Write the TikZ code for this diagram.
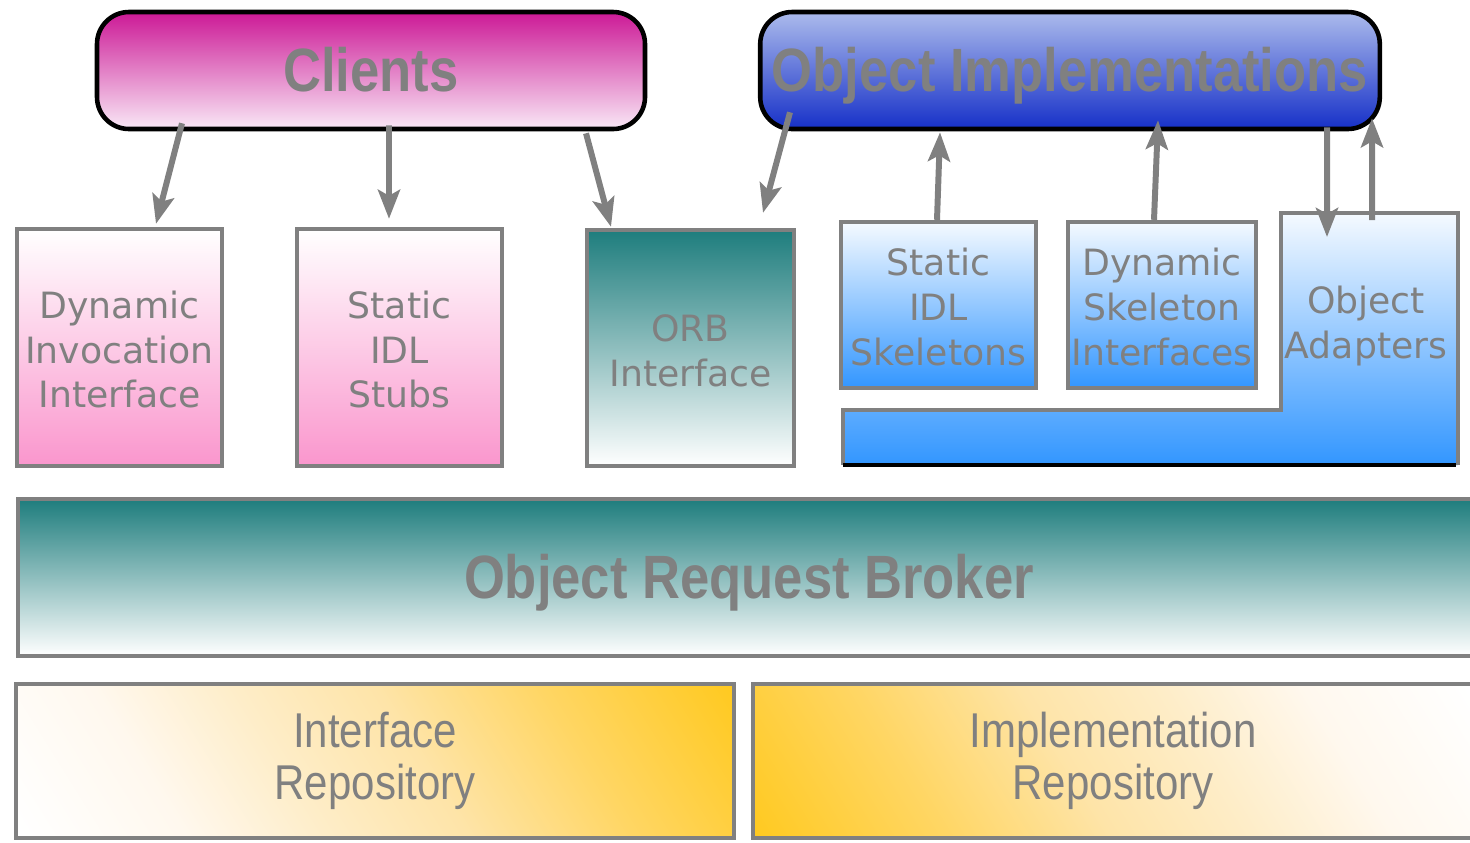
\documentclass[tikz,border=0pt]{standalone}
\usepackage{fontspec}
\setmainfont{DejaVu Sans}
\newfontfamily\narrowsans[FakeStretch=0.86]{Liberation Sans}
\usetikzlibrary{arrows.meta}
\definecolor{textgray}{RGB}{128,128,128}
\definecolor{clienttop}{RGB}{204,25,150}
\definecolor{clientmid}{RGB}{228,160,207}
\definecolor{clientbot}{RGB}{249,232,246}
\definecolor{impltop}{RGB}{172,187,236}
\definecolor{implmid}{RGB}{146,164,230}
\definecolor{implbot}{RGB}{22,48,200}
\definecolor{stubpink}{RGB}{250,150,205}
\definecolor{stubmid}{RGB}{252,218,236}
\definecolor{orbteal}{RGB}{30,125,125}
\definecolor{orbmid}{RGB}{165,190,190}
\definecolor{skelblue}{RGB}{50,150,255}
\definecolor{skelmid}{RGB}{170,202,255}
\definecolor{repogold}{RGB}{255,200,25}
\definecolor{repowarm}{RGB}{255,214,100}
\definecolor{repopale}{RGB}{254,228,168}
\definecolor{repopeach}{RGB}{254,237,200}
\definecolor{repolight}{RGB}{255,248,238}

% soft gold glow for the repositories
\pgfdeclarehorizontalshading{repoglow}{100bp}{color(0bp)=(white); color(16bp)=(white);
  color(30bp)=(repolight); color(42bp)=(repopeach); color(54bp)=(repopale);
  color(68bp)=(repowarm); color(86bp)=(repogold); color(100bp)=(repogold)}

\tikzset{
  header/.style={draw=black, line width=1.3pt, rounded corners=0.32cm,
    minimum height=1.17cm, text=textgray, text height=0.42cm, text depth=0pt,
    font=\narrowsans\bfseries\fontsize{17.4}{20}\selectfont},
  part/.style={draw=textgray, line width=1.25pt, text=textgray, align=center,
    inner sep=0pt, font=\fontsize{10.3}{12.8}\selectfont},
  pinkpart/.style={part, top color=white, middle color=stubmid, bottom color=stubpink,
    minimum width=2.05cm, minimum height=2.37cm},
  bluepart/.style={part, top color=white!95!skelblue, middle color=skelmid, bottom color=skelblue,
    minimum height=1.66cm},
  repo/.style={draw=textgray, line width=1.25pt, text=textgray, align=center, shading=repoglow,
    minimum height=1.54cm, font=\narrowsans\fontsize{13.9}{14.8}\selectfont},
  flow/.style={draw=textgray, line width=1.7pt,
    -{Stealth[length=0.29cm, width=0.22cm, inset=0.06cm]}}
}

\begin{document}
\begin{tikzpicture}
\useasboundingbox (0,0) rectangle (14.7,-8.42);

% top row
\node[header, minimum width=5.48cm, top color=clienttop, middle color=clientmid, bottom color=clientbot]
  (clients) at (3.71,-0.705) {Clients};
\node[header, minimum width=6.12cm, top color=impltop, middle color=implmid, bottom color=implbot]
  (objimpl) at (10.70,-0.705) {Object Implementations};

% client side
\node[pinkpart] (dii) at (1.195,-3.475) {\strut Dynamic\\Invocation\\Interface};
\node[pinkpart] (stubs) at (3.995,-3.475) {\strut Static\\IDL\\Stubs};
\node[part, top color=orbteal, middle color=orbmid, bottom color=white,
  minimum width=2.07cm, minimum height=2.36cm] (orbif) at (6.905,-3.48) {\strut ORB\\Interface};

% server side
\node[bluepart, minimum width=1.95cm] (skel) at (9.385,-3.05) {\strut Static\\IDL\\Skeletons};
\node[bluepart, minimum width=1.88cm] (dsi) at (11.62,-3.05) {\strut Dynamic\\Skeleton\\Interfaces};
\shade[top color=white!95!skelblue, middle color=skelmid, bottom color=skelblue]
  (12.81,-2.13) -- (14.58,-2.13) -- (14.58,-4.65) -- (8.43,-4.65) -- (8.43,-4.10) -- (12.81,-4.10) -- cycle;
\draw[textgray, line width=1.25pt]
  (8.43,-4.65) -- (8.43,-4.10) -- (12.81,-4.10) -- (12.81,-2.13) -- (14.58,-2.13) -- (14.58,-4.65);
\draw[black, line width=1.25pt] (8.43,-4.65) -- (14.56,-4.65);
\coordinate (oatop) at (13.695,-2.13);
\node[text=textgray, align=center, font=\fontsize{10.3}{12.8}\selectfont]
  (adapters) at (13.66,-3.26) {Object\\Adapters};

% core and repositories
\node[part, top color=orbteal, middle color=orbmid, bottom color=white,
  minimum width=14.62cm, minimum height=1.57cm, text height=0.42cm, text depth=0pt,
  font=\narrowsans\bfseries\fontsize{17.4}{20}\selectfont] (orb) at (7.49,-5.775) {Object Request Broker};
\node[repo, minimum width=7.18cm, shading angle=32] (ifrepo) at (3.75,-7.61) {Interface\\Repository};
\node[repo, minimum width=7.20cm, shading angle=212] (implrepo) at (11.13,-7.61) {Implementation\\Repository};

% requests
\draw[flow] ([xshift=-1.89cm,yshift=0.08cm]clients.south) -- ([xshift=0.365cm,yshift=0.03cm]dii.north);
\draw[flow] ([xshift=0.18cm,yshift=0.06cm]clients.south) -- ([xshift=-0.105cm,yshift=0.08cm]stubs.north);
\draw[flow] ([xshift=2.15cm,yshift=-0.02cm]clients.south) -- ([xshift=-0.795cm,yshift=0.01cm]orbif.north);
\draw[flow] ([xshift=-2.80cm,yshift=0.19cm]objimpl.south) -- ([xshift=0.725cm,yshift=0.15cm]orbif.north);
\draw[flow] ([xshift=-0.015cm]skel.north) -- ([xshift=-1.30cm,yshift=-0.01cm]objimpl.south);
\draw[flow] ([xshift=-0.08cm]dsi.north) -- ([xshift=0.88cm,yshift=0.11cm]objimpl.south);
\draw[flow] ([xshift=2.57cm,yshift=0.04cm]objimpl.south) -- ([xshift=-0.425cm,yshift=-0.24cm]oatop);
\draw[flow] ([xshift=0.025cm,yshift=-0.07cm]oatop) -- ([xshift=3.02cm,yshift=0.13cm]objimpl.south);
\end{tikzpicture}
\end{document}
